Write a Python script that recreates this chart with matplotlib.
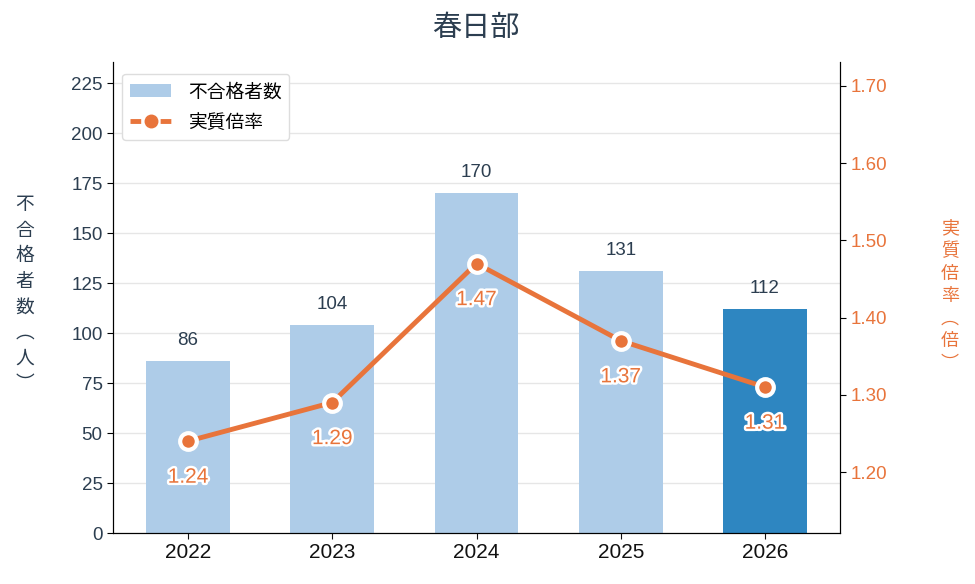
import numpy as np
import matplotlib.pyplot as plt
import matplotlib.patheffects as pe

plt.rcParams['font.family'] = ['Liberation Sans', 'Noto Sans CJK JP', 'DejaVu Sans']

years = ['2022', '2023', '2024', '2025', '2026']
failed = [86, 104, 170, 131, 112]
ratio = [1.24, 1.29, 1.47, 1.37, 1.31]

light = '#aecce8'
dark = '#2e86c1'
orange = '#e8743b'
text_col = '#2c3e50'
cjk = ['Noto Sans CJK JP', 'DejaVu Sans']

fig = plt.figure(figsize=(9.75, 5.84), dpi=100)
ax = fig.add_axes([113 / 975, 51 / 584, 727 / 975, 471 / 584])
x = np.arange(len(years))
colors = [light] * (len(years) - 1) + [dark]
bars = ax.bar(x, failed, width=0.58, color=colors, zorder=2)
for xi, v in zip(x, failed):
    ax.text(xi, v + 6, str(v), ha='center', va='bottom', fontsize=13.5, color=text_col)

ax.set_xlim(-0.52, 4.52)
ax.set_ylim(0, 235.5)
ax.set_yticks(np.arange(0, 226, 25))
ax.set_xticks(x)
ax.set_xticklabels(years)
ax.tick_params(axis='x', labelsize=15, colors='#111111', length=4)
ax.tick_params(axis='y', labelsize=13.5, labelcolor=text_col, length=4)
ax.grid(axis='y', color='#e6e6e6', linewidth=1, zorder=0)
ax.set_axisbelow(True)
ax.spines['top'].set_visible(False)

ax2 = ax.twinx()
ax2.plot(x, ratio, color=orange, linewidth=3.5, marker='o', markersize=12,
         markerfacecolor=orange, markeredgecolor='white', markeredgewidth=3, zorder=3)
ax2.set_ylim(1.121, 1.731)
ticks2 = [1.2, 1.3, 1.4, 1.5, 1.6, 1.7]
ax2.set_yticks(ticks2)
ax2.set_yticklabels(['%.2f' % t for t in ticks2])
ax2.tick_params(axis='y', labelsize=13.5, labelcolor=orange, length=4)
ax2.spines['top'].set_visible(False)
for xi, r in zip(x, ratio):
    ax2.annotate('%.2f' % r, (xi, r), xytext=(0, -26), textcoords='offset points',
                 ha='center', va='center', fontsize=15, color=orange,
                 path_effects=[pe.withStroke(linewidth=3.5, foreground='white')])

leg_line = plt.Line2D([], [], color=orange, linewidth=3.5, dashes=(2.2, 0.9), marker='o',
                      markersize=9, markerfacecolor=orange, markeredgecolor=orange)
leg = ax.legend([bars, leg_line], ['不合格者数', '実質倍率'], loc='upper left',
                bbox_to_anchor=(0.0, 0.995), prop={'family': cjk, 'size': 13.5},
                handlelength=2.2, handletextpad=0.9, frameon=True, fancybox=True,
                edgecolor='#dddddd', framealpha=1)

fig.text(25 / 975, 290 / 584, '\n'.join('不合格者数︵人︶'), ha='center', va='center',
         fontsize=13.5, color=text_col, linespacing=1.28, family=cjk)
fig.text(950 / 975, 288 / 584, '\n'.join('実質倍率︵倍︶'), ha='center', va='center',
         fontsize=13, color=orange, linespacing=1.32, family=cjk)
fig.text(476 / 975, 1 - 28 / 584, '春日部', ha='center', va='center', fontsize=21,
         color=text_col, family=cjk)

fig.savefig('out.png', dpi=100)
